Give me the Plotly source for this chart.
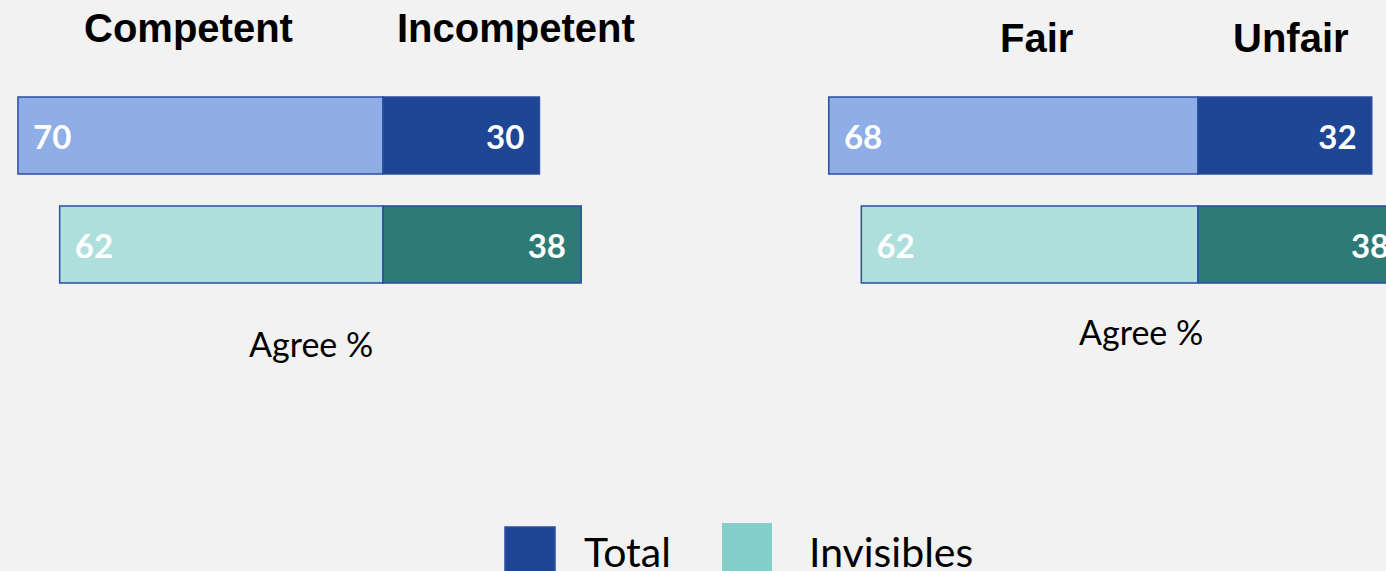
import plotly.graph_objects as go

# ---- data ----
groups = ["Total", "Invisibles"]
competent = [70, 62]
incompetent = [30, 38]
fair = [68, 62]
unfair = [32, 38]

agree_colors = ["#8FADE6", "#AEDFDC"]
disagree_colors = ["#1F4695", "#2E7A74"]
legend_colors = ["#1F4695", "#84CFCA"]
edge = "#2A4EA0"

W, H = 1386, 571
BG = "#F2F2F2"
PAD = "\u00a0\u2009"

# pixel layout helpers (layout only)
def rng(split_px, scale, d0, d1):
    return [(d0 - split_px) / scale, (d1 - split_px) / scale]

L_D = (0, 640)
R_D = (680, W)
x1_range = rng(383, 5.215, *L_D)
x2_range = rng(1198, 5.43, *R_D)
# y: Total center at 135.5px, Invisibles at 244.5px, 109 px per category
y_range = [-(H - 244.5) / 109.0, 1 + 135.5 / 109.0]
bar_w = 77 / 109.0

num_font = dict(family="Lato", size=33, color="white", weight="bold")

fig = go.Figure()

def add_panel(agree, disagree, xa):
    fig.add_trace(go.Bar(
        y=groups, x=agree, base=[-v for v in agree], orientation="h",
        width=bar_w, xaxis=xa, yaxis="y",
        marker=dict(color=agree_colors, line=dict(color=edge, width=1.5)),
        text=[PAD + str(v) for v in agree], textposition="inside",
        insidetextanchor="start", insidetextfont=num_font,
        showlegend=False, hoverinfo="skip", cliponaxis=True,
    ))
    fig.add_trace(go.Bar(
        y=groups, x=disagree, base=[0 for _ in disagree], orientation="h",
        width=bar_w, xaxis=xa, yaxis="y",
        marker=dict(color=disagree_colors, line=dict(color=edge, width=1.5)),
        text=[str(v) + PAD for v in disagree], textposition="inside",
        insidetextanchor="end", insidetextfont=num_font,
        showlegend=False, hoverinfo="skip", cliponaxis=True,
    ))

add_panel(competent, incompetent, "x")
add_panel(fair, unfair, "x2")

axis_off = dict(showgrid=False, zeroline=False, showticklabels=False,
                showline=False, ticks="", fixedrange=True)

fig.update_layout(
    width=W, height=H,
    margin=dict(l=0, r=0, t=0, b=0),
    paper_bgcolor=BG, plot_bgcolor=BG,
    barmode="overlay",
    showlegend=False,
    xaxis=dict(domain=[L_D[0] / W, L_D[1] / W], range=x1_range, **axis_off),
    xaxis2=dict(domain=[R_D[0] / W, R_D[1] / W], range=x2_range, anchor="y", **axis_off),
    yaxis=dict(domain=[0, 1], range=y_range, categoryorder="array",
               categoryarray=groups[::-1], **axis_off),
)

def px_x(p):
    return p / W

def px_y(p):
    return 1 - p / H

title_font = dict(family="Liberation Sans", size=40, color="black")
titles = [("Competent", 188, 28), ("Incompetent", 516, 28),
          ("Fair", 1036, 38), ("Unfair", 1291, 38)]
for t, cx, cy in titles:
    fig.add_annotation(text="<b>%s</b>" % t, x=px_x(cx), y=px_y(cy), xref="paper", yref="paper",
                       xanchor="center", yanchor="middle", showarrow=False, font=title_font)

sub_font = dict(family="Lato", size=34, color="black")
for cx, cy in [(311, 343), (1141, 331)]:
    fig.add_annotation(text="Agree %", x=px_x(cx), y=px_y(cy), xref="paper", yref="paper",
                       xanchor="center", yanchor="middle", showarrow=False, font=sub_font)

# legend
leg_font = dict(family="Lato", size=41, color="black")
legend_items = [
    (groups[0], legend_colors[0], 505, 527, 582, True),
    (groups[1], legend_colors[1], 722, 523, 807, False),
]
for name, col, sx, sy, tx, outline in legend_items:
    fig.add_shape(type="rect", xref="paper", yref="paper",
                  x0=px_x(sx), x1=px_x(sx + 50), y0=px_y(sy), y1=px_y(H + 10),
                  fillcolor=col,
                  line=dict(color=edge if outline else col, width=1.5 if outline else 0))
    fig.add_annotation(text=name, x=px_x(tx), y=px_y(551), xref="paper", yref="paper",
                       xanchor="left", yanchor="middle", showarrow=False, font=leg_font)

fig.write_html(
    "out.html",
    config={"displayModeBar": False, "responsive": False},
    post_script="document.body.style.margin='0';document.body.style.overflow='hidden';",
)
